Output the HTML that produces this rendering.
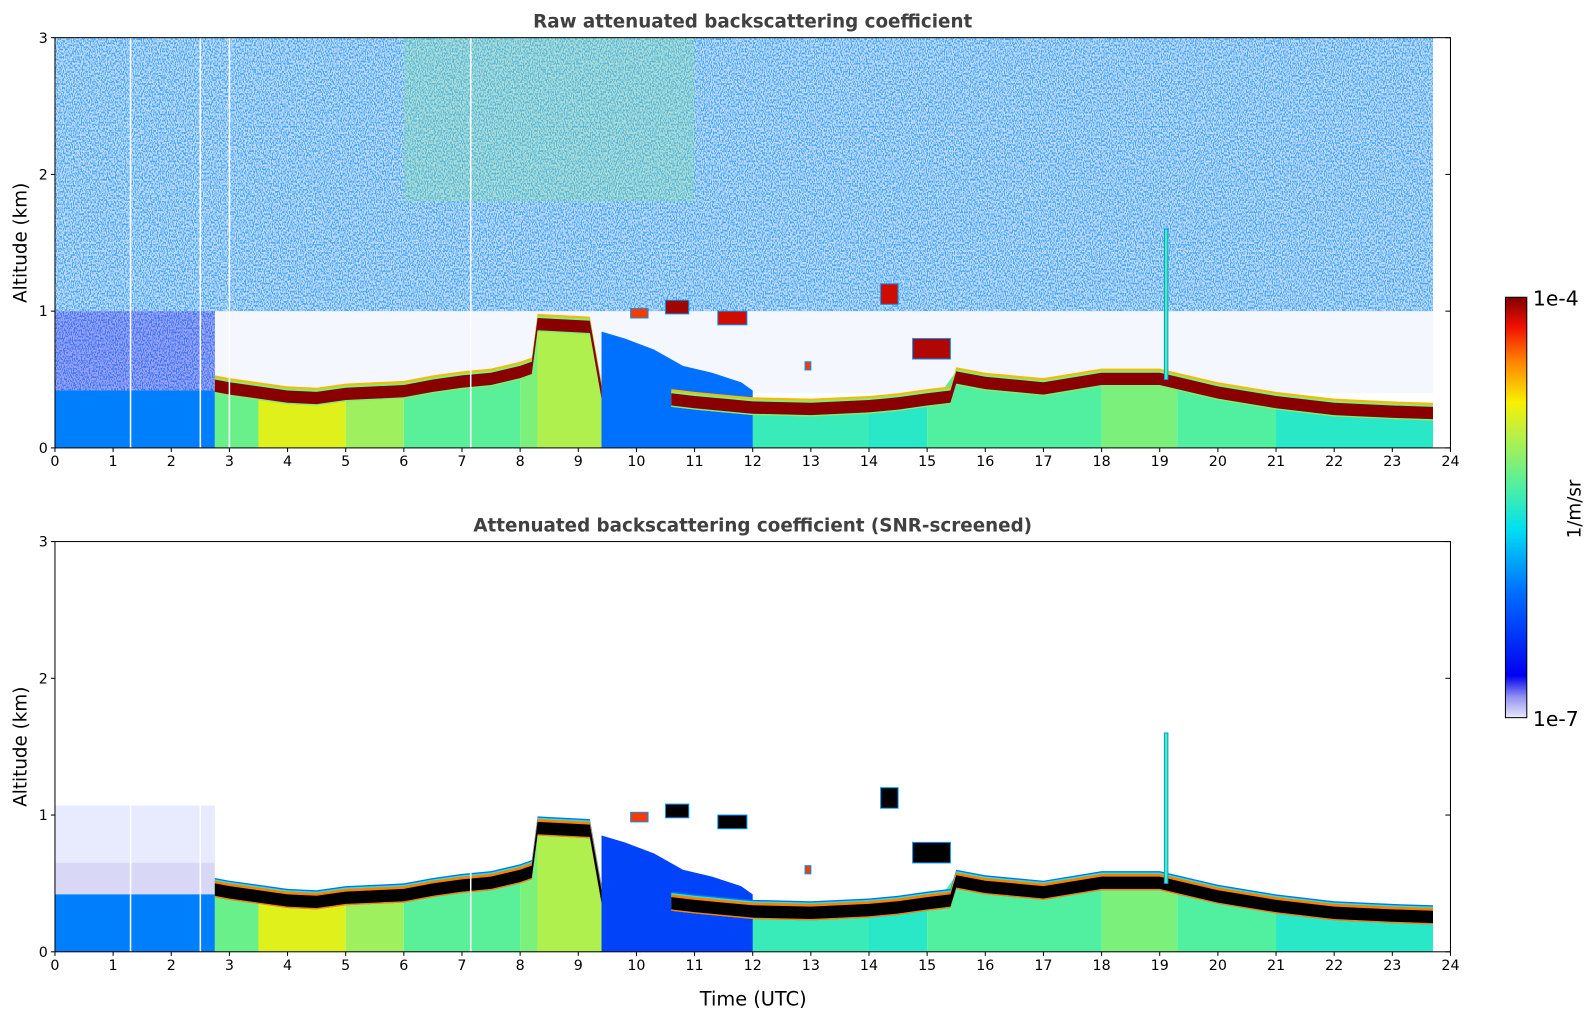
<!DOCTYPE html>
<html><head><meta charset="utf-8"><style>
html,body{margin:0;padding:0;background:#fff;overflow:hidden;width:1595px;height:1020px;}
svg{display:block;position:absolute;left:0;top:0;font-family:"DejaVu Sans","Liberation Sans",sans-serif;}
</style></head><body>
<svg id="fig" width="1595" height="1020" viewBox="0 0 1567 1002" preserveAspectRatio="none" xmlns="http://www.w3.org/2000/svg">
<defs>
<linearGradient id="cbgrad" x1="0" y1="1" x2="0" y2="0">
<stop offset="0" stop-color="#e8e8fa"/><stop offset="0.05" stop-color="#9090f0"/><stop offset="0.1" stop-color="#0000f0"/>
<stop offset="0.3" stop-color="#0070ff"/><stop offset="0.45" stop-color="#00e0f0"/><stop offset="0.55" stop-color="#50f0a0"/>
<stop offset="0.68" stop-color="#c0f040"/><stop offset="0.75" stop-color="#f8f000"/><stop offset="0.85" stop-color="#ff8000"/>
<stop offset="0.93" stop-color="#f01000"/><stop offset="1" stop-color="#800000"/>
</linearGradient>
<filter id="noise" x="0" y="0" width="1" height="1">
<feTurbulence type="fractalNoise" baseFrequency="0.9 0.5" numOctaves="1" seed="3" result="t"/>
<feColorMatrix in="t" type="matrix" values="0 0 0 0 0.1  0 0 0 0 0.45  0 0 0 0 0.95  0 0 0 9 -4.2" result="c"/>
<feComposite in="c" in2="SourceGraphic" operator="in"/>
</filter>
</defs>
<g id="panels"></g>
</svg>
<script>
// ---- data ----
const xTicks=[0,1,2,3,4,5,6,7,8,9,10,11,12,13,14,15,16,17,18,19,20,21,22,23,24];
const yTicks=[0,1,2,3];
const bandTimes=[2.75,3,3.5,4,4.5,5,5.5,6,6.5,7,7.5,8,8.2,8.3,9.2,9.4,10.6,11,11.5,12,13,14,14.5,15,15.4,15.5,16,17,18,19,19.3,20,21,22,23,23.7];
const bandTop=[0.5,0.48,0.45,0.42,0.41,0.44,0.45,0.46,0.5,0.53,0.55,0.6,0.63,0.95,0.93,0.45,0.4,0.38,0.36,0.34,0.33,0.35,0.37,0.4,0.42,0.56,0.52,0.48,0.55,0.55,0.52,0.45,0.38,0.33,0.31,0.3];
const segStarts=[2.75,3.5,5,6,8,8.3,9.4,10,12,14,15,18,19.3,21];
const segEnds=[3.5,5,6,8,8.3,9.4,10,12,14,15,18,19.3,21,23.7];
const segVals=[0.58,0.72,0.64,0.56,0.6,0.66,0.33,0.38,0.52,0.5,0.55,0.6,0.55,0.5];
const blueMassTimes=[9.4,9.8,10.3,10.8,11.3,11.8,12.0];
const blueMassTop=[0.85,0.8,0.72,0.6,0.55,0.48,0.42];
const clouds=[[10.5,10.9,0.98,1.08,0.98],[9.9,10.2,0.95,1.02,0.9],[11.4,11.9,0.9,1.0,0.95],[14.2,14.5,1.05,1.2,0.95],[14.75,15.4,0.65,0.8,0.97],[19.08,19.14,0.5,1.6,0.55],[12.9,13.0,0.57,0.63,0.9]];
const lowLayerEnd=2.75, lowLayerTop=0.42;
// ---- helpers ----
function jet(v){
 const st=[[0,[232,232,250]],[0.05,[144,144,240]],[0.1,[0,0,240]],[0.3,[0,112,255]],[0.45,[0,224,240]],[0.55,[80,240,160]],[0.68,[192,240,64]],[0.75,[248,240,0]],[0.85,[255,128,0]],[0.93,[240,16,0]],[1,[128,0,0]]];
 for(let i=1;i<st.length;i++){if(v<=st[i][0]){const a=st[i-1],b=st[i],f=(v-a[0])/(b[0]-a[0]);return 'rgb('+a[1].map((c,k)=>Math.round(c+(b[1][k]-c)*f)).join(',')+')';}}
 return 'rgb(128,0,0)';
}
const NS='http://www.w3.org/2000/svg';
function el(tag,attrs,parent){const e=document.createElementNS(NS,tag);for(const k in attrs)e.setAttribute(k,attrs[k]);parent.appendChild(e);return e;}
const X0=54,X1=1425;
function sx(t){return X0+(X1-X0)*t/24;}
function interp(t){for(let i=1;i<bandTimes.length;i++){if(t<=bandTimes[i]){const f=(t-bandTimes[i-1])/(bandTimes[i]-bandTimes[i-1]);return bandTop[i-1]+(bandTop[i]-bandTop[i-1])*f;}}return bandTop[bandTop.length-1];}
const root=document.getElementById('panels');
function panel(Y0,Y1,raw,title,idx){
 const sy=z=>Y1-(Y1-Y0)*z/3;
 const g=el('g',{},root);
 
 
 const clipId='clip'+idx;
 const cp=el('clipPath',{id:clipId},g);el('rect',{x:X0,y:Y0,width:X1-X0,height:Y1-Y0},cp);
 const plot=el('g',{'clip-path':'url(#'+clipId+')'},g);
 
 
 if(raw){
  const nz=el('rect',{x:X0,y:Y0,width:sx(23.7)-X0,height:sy(1)-Y0,fill:'#fff',filter:'url(#noise)'},plot);
  
  
  el('rect',{x:X0,y:Y0,width:sx(23.7)-X0,height:sy(1)-Y0,fill:'#3090f0',opacity:0.32},plot);
  el('rect',{x:sx(6),y:Y0,width:sx(11)-sx(6),height:sy(1.8)-Y0,fill:'#80e090',opacity:0.3},plot);
  const lo=el('rect',{x:X0,y:sy(1),width:sx(2.75)-X0,height:sy(lowLayerTop)-sy(1),fill:'#fff',filter:'url(#noise)'},plot);
  
  
  el('rect',{x:X0,y:sy(1),width:sx(2.75)-X0,height:sy(lowLayerTop)-sy(1),fill:'#2030f0',opacity:0.45},plot);
  el('rect',{x:sx(2.75),y:sy(1),width:sx(23.7)-sx(2.75),height:sy(0.4)-sy(1),fill:'#4060f0',opacity:0.05},plot);
 } else {
  const lv=el('rect',{x:X0,y:sy(0.65),width:sx(2.75)-X0,height:sy(lowLayerTop)-sy(0.65),fill:'#d8d8f6'},plot);
  
  
  el('rect',{x:X0,y:sy(1.07),width:sx(2.75)-X0,height:sy(0.65)-sy(1.07),fill:'#4050f0',opacity:0.12},plot);
 }
 const ll=el('rect',{x:X0,y:sy(lowLayerTop),width:sx(lowLayerEnd)-X0,height:sy(0)-sy(lowLayerTop),fill:jet(0.32)},plot);
 
 
 for(let i=0;i<segStarts.length;i++){
  const pts=[];const n=12;
  for(let k=0;k<=n;k++){const t=segStarts[i]+(segEnds[i]-segStarts[i])*k/n;pts.push(sx(t)+','+sy(interp(t)));}
  pts.push(sx(segEnds[i])+','+sy(0));pts.push(sx(segStarts[i])+','+sy(0));
  const p=el('polygon',{points:pts.join(' '),fill:jet(segVals[i])},plot);
  
  
 }
 {const pts=blueMassTimes.map((t,i)=>sx(t)+','+sy(blueMassTop[i]));
  pts.push(sx(blueMassTimes[blueMassTimes.length-1])+','+sy(0));pts.push(sx(blueMassTimes[0])+','+sy(0));
  const p=el('polygon',{points:pts.join(' '),fill:raw?jet(0.3):jet(0.22)},plot);
  
  }
 const bandColor=raw?'#8a0000':'#000';
 const fringe=raw?[[0.03,jet(0.8)],[0.015,jet(0.6)]]:[[0.04,jet(0.3)],[0.03,jet(0.5)],[0.02,jet(0.85)]];
 const parts=[[2.75,9.4],[10.6,23.7]];
 parts.forEach(([a,b])=>{
  const ts=bandTimes.filter(t=>t>=a&&t<=b);
  fringe.forEach(([off,c])=>{
   const top=ts.map(t=>sx(t)+','+sy(interp(t)+off));
   const bot=ts.slice().reverse().map(t=>sx(t)+','+sy(interp(t)-0.1));
   el('polygon',{points:top.concat(bot).join(' '),fill:c},plot);
  });
  const top=ts.map(t=>sx(t)+','+sy(interp(t)));
  const bot=ts.slice().reverse().map(t=>sx(t)+','+sy(interp(t)-0.09));
  const p=el('polygon',{points:top.concat(bot).join(' '),fill:bandColor},plot);
  
  
 });
 clouds.forEach(c=>{
  const r=el('rect',{x:sx(c[0]),y:sy(c[3]),width:sx(c[1])-sx(c[0]),height:sy(c[2])-sy(c[3]),fill:raw?jet(c[4]):(c[4]>0.92?'#000':jet(c[4])),stroke:jet(0.35),'stroke-width':1},plot);
  
  
 });
 (raw?[1.3,2.5,3.0,7.15]:[1.3,2.5,7.15]).forEach(t=>{el('line',{x1:sx(t),x2:sx(t),y1:raw?Y0:sy(1.07),y2:Y1,stroke:'#fff','stroke-width':1.5},plot);});
 el('rect',{x:sx(23.7),y:Y0,width:X1-sx(23.7),height:Y1-Y0,fill:'#fff'},plot);
 const fr=el('rect',{x:X0,y:Y0,width:X1-X0,height:Y1-Y0,fill:'none',stroke:'#000','stroke-width':1},g);
 
 
 xTicks.forEach(t=>{
  el('line',{x1:sx(t),x2:sx(t),y1:Y1,y2:Y1+4,stroke:'#000'},g);
  const tx=el('text',{x:sx(t),y:Y1+18,'font-size':14,'text-anchor':'middle'},g);tx.textContent=t;
  
  
 });
 yTicks.forEach(z=>{
  el('line',{x1:X0,x2:X0-4,y1:sy(z),y2:sy(z),stroke:'#000'},g);
  el('line',{x1:X1,x2:X1-5,y1:sy(z),y2:sy(z),stroke:'#000'},g);
  const tx=el('text',{x:X0-7,y:sy(z)+5,'font-size':14,'text-anchor':'end'},g);tx.textContent=z;
  
  
 });
 const ti=el('text',{x:(X0+X1)/2,y:Y0-10,'font-size':18,'font-weight':'bold','text-anchor':'middle',fill:'#404040'},g);ti.textContent=title;
 
 
 const yl=el('text',{x:0,y:0,'font-size':18,'text-anchor':'middle',transform:'translate(26,'+((Y0+Y1)/2)+') rotate(-90)'},g);yl.textContent='Altitude (km)';
 
 
}
panel(37,440,true,'Raw attenuated backscattering coefficient',0);
panel(532,935,false,'Attenuated backscattering coefficient (SNR-screened)',1);
const svg=document.getElementById('fig');
const xl=el('text',{x:740,y:988,'font-size':19,'text-anchor':'middle'},svg);xl.textContent='Time (UTC)';


const cb=el('rect',{x:1479,y:292,width:21,height:413,fill:'url(#cbgrad)',stroke:'#000','stroke-width':1},svg);


const c1=el('text',{x:1506,y:300,'font-size':20},svg);c1.textContent='1e-4';


const c2=el('text',{x:1506,y:713,'font-size':20},svg);c2.textContent='1e-7';


const cu=el('text',{x:0,y:0,'font-size':18,'text-anchor':'middle',transform:'translate(1553,500) rotate(-90)'},svg);cu.textContent='1/m/sr';


</script>
</body></html>
